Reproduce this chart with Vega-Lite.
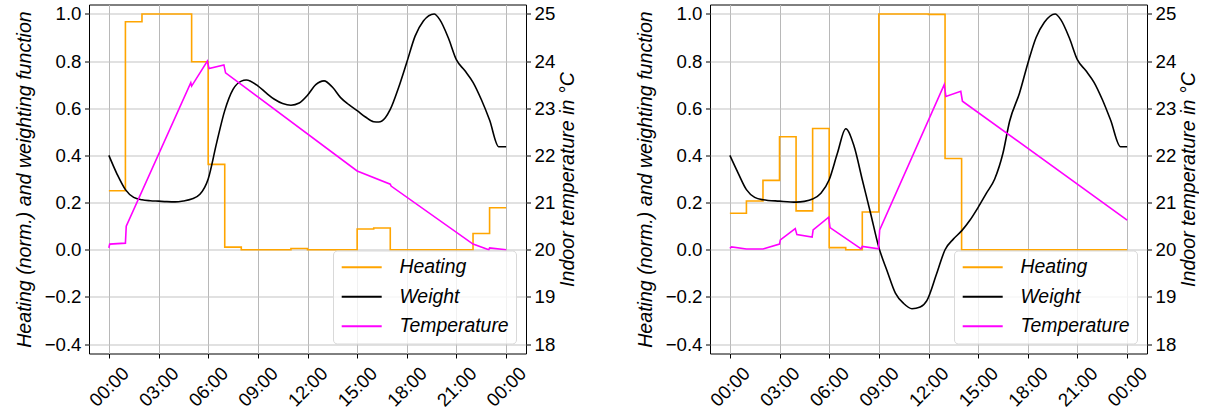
{
  "$schema": "https://vega.github.io/schema/vega-lite/v6.json",
  "padding": {"left": 14, "top": 3.5, "right": 0, "bottom": 0},
  "spacing": 57,
  "config": {
    "font": "Liberation Sans",
    "view": {"stroke": "black", "strokeWidth": 1},
    "axis": {"labelFontSize": 18.67, "titleFontSize": 19.6, "titleFontStyle": "italic", "titleFontWeight": "normal", "labelColor": "black", "titleColor": "black", "tickColor": "black", "tickSize": 4.5, "labelPadding": 3.5, "domain": false, "gridColor": "#c4c4c4", "gridWidth": 1.2},
    "legend": {"orient": "bottom-right", "offset": 10, "padding": 7, "strokeColor": "#d9d9d9", "cornerRadius": 4, "fillColor": "rgba(255,255,255,0.8)", "symbolType": "M-1,0H4", "symbolStrokeWidth": 2, "symbolSize": 256, "labelFontSize": 19.4, "labelFontStyle": "italic", "labelOffset": 40, "labelLimit": 300, "rowPadding": 8.5, "title": null}
  },
  "data": {"values": [
    {"p":"a","s":"Heating","h":0,"v":0.25},{"p":"a","s":"Heating","h":1,"v":0.967},{"p":"a","s":"Heating","h":2,"v":1.0},{"p":"a","s":"Heating","h":3,"v":1.0},{"p":"a","s":"Heating","h":4,"v":1.0},{"p":"a","s":"Heating","h":5,"v":0.797},{"p":"a","s":"Heating","h":6,"v":0.362},{"p":"a","s":"Heating","h":7,"v":0.011},{"p":"a","s":"Heating","h":8,"v":0},{"p":"a","s":"Heating","h":9,"v":0},{"p":"a","s":"Heating","h":10,"v":0},{"p":"a","s":"Heating","h":11,"v":0.005},{"p":"a","s":"Heating","h":12,"v":0},{"p":"a","s":"Heating","h":13,"v":0},{"p":"a","s":"Heating","h":14,"v":0},{"p":"a","s":"Heating","h":15,"v":0.088},{"p":"a","s":"Heating","h":16,"v":0.092},{"p":"a","s":"Heating","h":17,"v":0},{"p":"a","s":"Heating","h":18,"v":0},{"p":"a","s":"Heating","h":19,"v":0},{"p":"a","s":"Heating","h":20,"v":0},{"p":"a","s":"Heating","h":21,"v":0},{"p":"a","s":"Heating","h":22,"v":0.069},{"p":"a","s":"Heating","h":23,"v":0.178},{"p":"a","s":"Heating","h":24,"v":0.178},
    {"p":"a","s":"Weight","h":0,"v":0.40},{"p":"a","s":"Weight","h":0.5,"v":0.32},{"p":"a","s":"Weight","h":1,"v":0.255},{"p":"a","s":"Weight","h":1.5,"v":0.222},{"p":"a","s":"Weight","h":2,"v":0.212},{"p":"a","s":"Weight","h":2.5,"v":0.208},{"p":"a","s":"Weight","h":3,"v":0.206},{"p":"a","s":"Weight","h":3.5,"v":0.204},{"p":"a","s":"Weight","h":4,"v":0.203},{"p":"a","s":"Weight","h":4.5,"v":0.207},{"p":"a","s":"Weight","h":5,"v":0.215},{"p":"a","s":"Weight","h":5.5,"v":0.235},{"p":"a","s":"Weight","h":6,"v":0.30},{"p":"a","s":"Weight","h":6.5,"v":0.45},{"p":"a","s":"Weight","h":7,"v":0.59},{"p":"a","s":"Weight","h":7.5,"v":0.68},{"p":"a","s":"Weight","h":8,"v":0.715},{"p":"a","s":"Weight","h":8.3,"v":0.72},{"p":"a","s":"Weight","h":9,"v":0.695},{"p":"a","s":"Weight","h":9.5,"v":0.665},{"p":"a","s":"Weight","h":10,"v":0.638},{"p":"a","s":"Weight","h":10.5,"v":0.62},{"p":"a","s":"Weight","h":11,"v":0.613},{"p":"a","s":"Weight","h":11.5,"v":0.622},{"p":"a","s":"Weight","h":12,"v":0.655},{"p":"a","s":"Weight","h":12.5,"v":0.70},{"p":"a","s":"Weight","h":13,"v":0.716},{"p":"a","s":"Weight","h":13.5,"v":0.69},{"p":"a","s":"Weight","h":14,"v":0.645},{"p":"a","s":"Weight","h":14.5,"v":0.615},{"p":"a","s":"Weight","h":15,"v":0.59},{"p":"a","s":"Weight","h":15.5,"v":0.563},{"p":"a","s":"Weight","h":16,"v":0.543},{"p":"a","s":"Weight","h":16.3,"v":0.542},{"p":"a","s":"Weight","h":16.7,"v":0.56},{"p":"a","s":"Weight","h":17,"v":0.595},{"p":"a","s":"Weight","h":17.5,"v":0.687},{"p":"a","s":"Weight","h":18,"v":0.795},{"p":"a","s":"Weight","h":18.5,"v":0.906},{"p":"a","s":"Weight","h":19,"v":0.97},{"p":"a","s":"Weight","h":19.65,"v":1.0},{"p":"a","s":"Weight","h":20,"v":0.975},{"p":"a","s":"Weight","h":20.5,"v":0.90},{"p":"a","s":"Weight","h":21,"v":0.805},{"p":"a","s":"Weight","h":21.5,"v":0.76},{"p":"a","s":"Weight","h":22,"v":0.71},{"p":"a","s":"Weight","h":22.5,"v":0.637},{"p":"a","s":"Weight","h":23,"v":0.55},{"p":"a","s":"Weight","h":23.55,"v":0.437},{"p":"a","s":"Weight","h":24,"v":0.437},
    {"p":"a","s":"Temperature","h":0,"v":20.04},{"p":"a","s":"Temperature","h":0.05,"v":20.12},{"p":"a","s":"Temperature","h":1.0,"v":20.14},{"p":"a","s":"Temperature","h":1.05,"v":20.5},{"p":"a","s":"Temperature","h":4.95,"v":23.54},{"p":"a","s":"Temperature","h":5.0,"v":23.47},{"p":"a","s":"Temperature","h":5.95,"v":24.0},{"p":"a","s":"Temperature","h":6.05,"v":23.84},{"p":"a","s":"Temperature","h":6.95,"v":23.92},{"p":"a","s":"Temperature","h":7.05,"v":23.75},{"p":"a","s":"Temperature","h":15.0,"v":21.67},{"p":"a","s":"Temperature","h":17.0,"v":21.39},{"p":"a","s":"Temperature","h":17.05,"v":21.35},{"p":"a","s":"Temperature","h":22.0,"v":20.12},{"p":"a","s":"Temperature","h":22.95,"v":20.0},{"p":"a","s":"Temperature","h":23.0,"v":20.04},{"p":"a","s":"Temperature","h":24,"v":20.0},
    {"p":"b","s":"Heating","h":0,"v":0.155},{"p":"b","s":"Heating","h":1,"v":0.207},{"p":"b","s":"Heating","h":2,"v":0.294},{"p":"b","s":"Heating","h":3,"v":0.479},{"p":"b","s":"Heating","h":4,"v":0.165},{"p":"b","s":"Heating","h":5,"v":0.514},{"p":"b","s":"Heating","h":6,"v":0.009},{"p":"b","s":"Heating","h":7,"v":0},{"p":"b","s":"Heating","h":8,"v":0.16},{"p":"b","s":"Heating","h":9,"v":1.0},{"p":"b","s":"Heating","h":10,"v":1.0},{"p":"b","s":"Heating","h":11,"v":1.0},{"p":"b","s":"Heating","h":12,"v":0.998},{"p":"b","s":"Heating","h":13,"v":0.387},{"p":"b","s":"Heating","h":14,"v":0},{"p":"b","s":"Heating","h":15,"v":0},{"p":"b","s":"Heating","h":16,"v":0},{"p":"b","s":"Heating","h":17,"v":0},{"p":"b","s":"Heating","h":18,"v":0},{"p":"b","s":"Heating","h":19,"v":0},{"p":"b","s":"Heating","h":20,"v":0},{"p":"b","s":"Heating","h":21,"v":0},{"p":"b","s":"Heating","h":22,"v":0},{"p":"b","s":"Heating","h":23,"v":0},{"p":"b","s":"Heating","h":24,"v":0},
    {"p":"b","s":"Weight","h":0,"v":0.40},{"p":"b","s":"Weight","h":0.5,"v":0.325},{"p":"b","s":"Weight","h":1,"v":0.255},{"p":"b","s":"Weight","h":1.5,"v":0.222},{"p":"b","s":"Weight","h":2,"v":0.212},{"p":"b","s":"Weight","h":3,"v":0.206},{"p":"b","s":"Weight","h":4,"v":0.202},{"p":"b","s":"Weight","h":4.5,"v":0.205},{"p":"b","s":"Weight","h":5,"v":0.215},{"p":"b","s":"Weight","h":5.5,"v":0.24},{"p":"b","s":"Weight","h":6,"v":0.297},{"p":"b","s":"Weight","h":6.5,"v":0.41},{"p":"b","s":"Weight","h":7,"v":0.513},{"p":"b","s":"Weight","h":7.5,"v":0.44},{"p":"b","s":"Weight","h":8,"v":0.297},{"p":"b","s":"Weight","h":8.5,"v":0.155},{"p":"b","s":"Weight","h":9,"v":0.01},{"p":"b","s":"Weight","h":9.5,"v":-0.09},{"p":"b","s":"Weight","h":10,"v":-0.184},{"p":"b","s":"Weight","h":10.5,"v":-0.228},{"p":"b","s":"Weight","h":11,"v":-0.25},{"p":"b","s":"Weight","h":11.5,"v":-0.243},{"p":"b","s":"Weight","h":11.9,"v":-0.216},{"p":"b","s":"Weight","h":12.5,"v":-0.10},{"p":"b","s":"Weight","h":13,"v":0.0},{"p":"b","s":"Weight","h":13.5,"v":0.045},{"p":"b","s":"Weight","h":14,"v":0.08},{"p":"b","s":"Weight","h":14.5,"v":0.125},{"p":"b","s":"Weight","h":15,"v":0.18},{"p":"b","s":"Weight","h":15.5,"v":0.24},{"p":"b","s":"Weight","h":16,"v":0.30},{"p":"b","s":"Weight","h":16.5,"v":0.41},{"p":"b","s":"Weight","h":16.9,"v":0.545},{"p":"b","s":"Weight","h":17.5,"v":0.665},{"p":"b","s":"Weight","h":18,"v":0.79},{"p":"b","s":"Weight","h":18.5,"v":0.90},{"p":"b","s":"Weight","h":19,"v":0.965},{"p":"b","s":"Weight","h":19.65,"v":1.0},{"p":"b","s":"Weight","h":20,"v":0.975},{"p":"b","s":"Weight","h":20.5,"v":0.90},{"p":"b","s":"Weight","h":21,"v":0.805},{"p":"b","s":"Weight","h":21.5,"v":0.76},{"p":"b","s":"Weight","h":22,"v":0.71},{"p":"b","s":"Weight","h":22.5,"v":0.637},{"p":"b","s":"Weight","h":23,"v":0.55},{"p":"b","s":"Weight","h":23.6,"v":0.437},{"p":"b","s":"Weight","h":24,"v":0.437},
    {"p":"b","s":"Temperature","h":0,"v":20.03},{"p":"b","s":"Temperature","h":0.1,"v":20.06},{"p":"b","s":"Temperature","h":1,"v":20.015},{"p":"b","s":"Temperature","h":2,"v":20.015},{"p":"b","s":"Temperature","h":3.0,"v":20.12},{"p":"b","s":"Temperature","h":3.05,"v":20.21},{"p":"b","s":"Temperature","h":3.95,"v":20.45},{"p":"b","s":"Temperature","h":4.05,"v":20.32},{"p":"b","s":"Temperature","h":4.97,"v":20.27},{"p":"b","s":"Temperature","h":5.03,"v":20.42},{"p":"b","s":"Temperature","h":5.97,"v":20.69},{"p":"b","s":"Temperature","h":6.05,"v":20.47},{"p":"b","s":"Temperature","h":7.93,"v":20.02},{"p":"b","s":"Temperature","h":8.0,"v":20.07},{"p":"b","s":"Temperature","h":8.98,"v":20.02},{"p":"b","s":"Temperature","h":9.05,"v":20.42},{"p":"b","s":"Temperature","h":12.95,"v":23.5},{"p":"b","s":"Temperature","h":13.05,"v":23.25},{"p":"b","s":"Temperature","h":13.95,"v":23.36},{"p":"b","s":"Temperature","h":14.05,"v":23.15},{"p":"b","s":"Temperature","h":24,"v":20.63}
  ]},
  "resolve": {"scale": {"color": "independent"}, "legend": {"color": "independent"}},
  "hconcat": [
    {
      "width": 437, "height": 349,
      "transform": [{"filter": "datum.p == 'a'"}],
      "encoding": {
        "x": {"field": "h", "type": "quantitative", "scale": {"domain": [-1.2, 25.2], "nice": false, "zero": false},
              "axis": {"title": null, "values": [0,3,6,9,12,15,18,21,24], "labelExpr": "(datum.value % 24 < 10 ? '0' : '') + (datum.value % 24) + ':00'", "grid": true, "gridColor": "#b8b8b8", "gridWidth": 1, "labelAngle": -45, "labelAlign": "center", "labelBaseline": "middle", "labelPadding": 28.5, "labelOverlap": false, "labelFlush": false}},
        "color": {"field": "s", "type": "nominal", "scale": {"domain": ["Heating","Weight","Temperature"], "range": ["#FFA500","#000000","#FF00FF"]}, "legend": {"title": null}}
      },
      "layer": [
        {
          "encoding": {"y": {"field": "v", "type": "quantitative", "scale": {"domain": [-0.44, 1.04], "nice": false, "zero": false}, "axis": {"title": "Heating (norm.) and weighting function", "values": [-0.4,-0.2,0,0.2,0.4,0.6,0.8,1.0], "format": ".1f", "grid": true, "titlePadding": 9.5}}},
          "layer": [
            {"transform": [{"filter": "datum.s == 'Heating'"}], "mark": {"type": "line", "interpolate": "step-after", "strokeWidth": 1.6}},
            {"transform": [{"filter": "datum.s == 'Weight'"}], "mark": {"type": "line", "interpolate": "monotone", "strokeWidth": 1.6}}
          ]
        },
        {
          "transform": [{"filter": "datum.s == 'Temperature'"}],
          "mark": {"type": "line", "strokeWidth": 1.6},
          "encoding": {"y": {"field": "v", "type": "quantitative", "scale": {"domain": [17.8, 25.2], "nice": false, "zero": false}, "axis": {"orient": "right", "title": "Indoor temperature in °C", "values": [18,19,20,21,22,23,24,25], "format": "d", "grid": false, "titleAngle": 270, "titleBaseline": "top", "titlePadding": 4}}}
        }
      ],
      "resolve": {"scale": {"y": "independent"}}
    },
    {
      "width": 437, "height": 349,
      "transform": [{"filter": "datum.p == 'b'"}],
      "encoding": {
        "x": {"field": "h", "type": "quantitative", "scale": {"domain": [-1.2, 25.2], "nice": false, "zero": false},
              "axis": {"title": null, "values": [0,3,6,9,12,15,18,21,24], "labelExpr": "(datum.value % 24 < 10 ? '0' : '') + (datum.value % 24) + ':00'", "grid": true, "gridColor": "#b8b8b8", "gridWidth": 1, "labelAngle": -45, "labelAlign": "center", "labelBaseline": "middle", "labelPadding": 28.5, "labelOverlap": false, "labelFlush": false}},
        "color": {"field": "s", "type": "nominal", "scale": {"domain": ["Heating","Weight","Temperature"], "range": ["#FFA500","#000000","#FF00FF"]}, "legend": {"title": null}}
      },
      "layer": [
        {
          "encoding": {"y": {"field": "v", "type": "quantitative", "scale": {"domain": [-0.44, 1.04], "nice": false, "zero": false}, "axis": {"title": "Heating (norm.) and weighting function", "values": [-0.4,-0.2,0,0.2,0.4,0.6,0.8,1.0], "format": ".1f", "grid": true, "titlePadding": 9.5}}},
          "layer": [
            {"transform": [{"filter": "datum.s == 'Heating'"}], "mark": {"type": "line", "interpolate": "step-after", "strokeWidth": 1.6}},
            {"transform": [{"filter": "datum.s == 'Weight'"}], "mark": {"type": "line", "interpolate": "monotone", "strokeWidth": 1.6}}
          ]
        },
        {
          "transform": [{"filter": "datum.s == 'Temperature'"}],
          "mark": {"type": "line", "strokeWidth": 1.6},
          "encoding": {"y": {"field": "v", "type": "quantitative", "scale": {"domain": [17.8, 25.2], "nice": false, "zero": false}, "axis": {"orient": "right", "title": "Indoor temperature in °C", "values": [18,19,20,21,22,23,24,25], "format": "d", "grid": false, "titleAngle": 270, "titleBaseline": "top", "titlePadding": 4}}}
        }
      ],
      "resolve": {"scale": {"y": "independent"}}
    }
  ]
}
